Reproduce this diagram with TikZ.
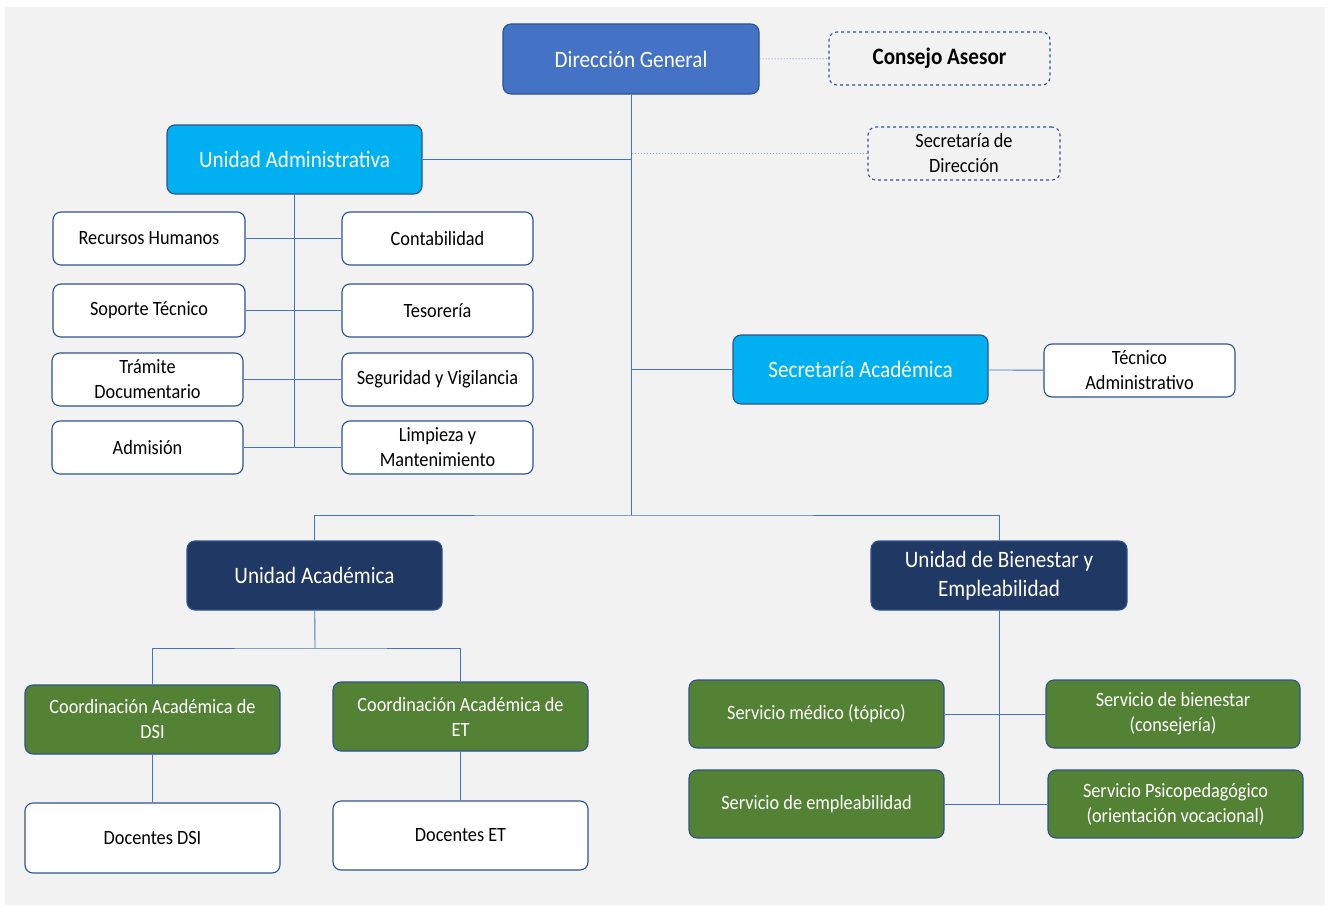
\documentclass[tikz,border=0pt]{standalone}
\usepackage{fontspec}
\setmainfont{Carlito}[FakeStretch=0.9]
\usepackage{xcolor}
\usetikzlibrary{positioning}

\definecolor{panel}{HTML}{F2F2F2}
\definecolor{edge}{HTML}{2F528F}
\definecolor{linkblue}{HTML}{4472C4}
\definecolor{dotblue}{HTML}{8FAADC}
\definecolor{headblue}{HTML}{4472C4}
\definecolor{unitcyan}{HTML}{00B0F0}
\definecolor{unitnavy}{HTML}{203864}
\definecolor{servgreen}{HTML}{548235}

\begin{document}
\begin{tikzpicture}[
    x=1pt, y=-1pt,
    box/.style={draw=edge, line width=1.1pt, rounded corners=8pt, minimum width=192pt, minimum height=53pt, align=center, inner sep=2pt, fill=white, text=black, font=\fontsize{20.3}{25}\selectfont},
    unit/.style={box, minimum width=255pt, minimum height=69pt, text=white, font=\fontsize{23.5}{29}\selectfont},
    advisor/.style={box, dashed, fill=panel},
    serv/.style={box, minimum width=255pt, minimum height=68pt, fill=servgreen, text=white},
    link/.style={draw=linkblue, line width=0.9pt},
    dotlink/.style={draw=dotblue, line width=1pt, dotted}
]

    % page and panel
    \fill[white] (0,0) rectangle (1328,907);
    \fill[panel] (5,7) rectangle (1325,905);

    \node[unit, fill=headblue, minimum width=256pt, minimum height=70pt] (dg) at (631,59) {Dirección General};
    \node[advisor, minimum width=221pt, font=\fontsize{23.5}{25}\selectfont\bfseries] (consejo) at (939.5,58.5) {Consejo Asesor};
    \node[advisor] (secdir) at (964,153.5) {Secretaría de\\Dirección};

    % administrative unit
    \node[unit, fill=unitcyan] (uadm) at (294.5,159.5) {Unidad Administrativa};
    \node[box] (rrhh) at (149,238.5) {Recursos Humanos};
    \node[box] (soporte) at (149,310.5) {Soporte Técnico};
    \node[box, minimum width=191pt] (tramite) at (147.5,379.5) {Trámite\\Documentario};
    \node[box, minimum width=191pt] (admision) at (147.5,447.5) {Admisión};
    \node[box, minimum width=191pt] (contab) at (437.5,238.5) {Contabilidad};
    \node[box, minimum width=191pt] (tesoreria) at (437.5,310.5) {Tesorería};
    \node[box, minimum width=191pt] (seguridad) at (437.5,379.5) {Seguridad y Vigilancia};
    \node[box, minimum width=191pt] (limpieza) at (437.5,447.5) {Limpieza y\\Mantenimiento};

    % academic secretary
    \node[unit, fill=unitcyan] (secacad) at (860.5,369.5) {Secretaría Académica};
    \node[box, minimum width=191pt] (tecadm) at (1139.5,370.5) {Técnico\\Administrativo};

    % academic unit
    \node[unit, fill=unitnavy] (uacad) at (314.5,575.5) {Unidad Académica};
    \node[serv, minimum height=69pt] (coorddsi) at (152.5,719.5) {Coordinación Académica de\\DSI};
    \node[serv, minimum height=69pt] (coordet) at (460.5,716.5) {Coordinación Académica de\\ET};
    \node[box, minimum width=255pt, minimum height=70pt] (docdsi) at (152.5,838) {Docentes DSI};
    \node[box, minimum width=255pt, minimum height=69pt] (docet) at (460.5,835.5) {Docentes ET};

    % welfare unit
    \node[unit, fill=unitnavy, minimum width=256pt] (ubien) at (999,575.5) {Unidad de Bienestar y\\Empleabilidad};
    \node[serv] (smedico) at (816.5,714) {Servicio médico (tópico)};
    \node[serv, minimum width=254pt] (sbien) at (1173,714) {Servicio de bienestar\\(consejería)};
    \node[serv] (semp) at (816.5,804) {Servicio de empleabilidad};
    \node[serv] (spsico) at (1175.5,804) {Servicio Psicopedagógico\\(orientación vocacional)};

    \coordinate (bus) at (631,515);
    \coordinate (acbus) at (315,648);

    \draw[dotlink] (dg) -- (consejo);
    \draw[dotlink] (secdir.west) -- (secdir.west -| dg.south);
    \draw[link] (dg) -- (bus);
    \draw[link] (uadm.east) -- (uadm.east -| dg.south);
    \draw[link] (secacad.west) -- (secacad.west -| dg.south);
    \draw[link] (secacad) -- (tecadm);

    % admin staff
    \draw[link] (uadm.south) -- (uadm.south |- admision.east);
    \draw[link] (rrhh) -- (contab);
    \draw[link] (soporte) -- (tesoreria);
    \draw[link] (tramite) -- (seguridad);
    \draw[link] (admision) -- (limpieza);

    % lower units
    \draw[link] (uacad.north) |- (bus) -| (ubien.north);
    \draw[link] (uacad) -- (acbus);
    \draw[link] (coorddsi.north) |- (acbus) -| (coordet.north);
    \draw[link] (coorddsi) -- (docdsi);
    \draw[link] (coordet) -- (docet);
    \draw[link] (ubien.south) -- (ubien.south |- semp.east);
    \draw[link] (smedico) -- (sbien);
    \draw[link] (semp) -- (spsico);

\end{tikzpicture}
\end{document}
